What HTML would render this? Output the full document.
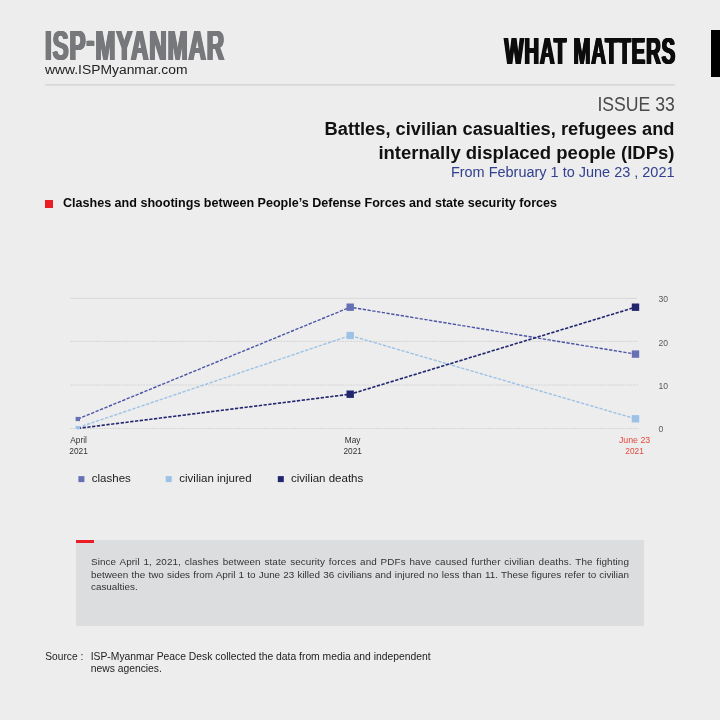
<!DOCTYPE html>
<html lang="en">
<head>
<meta charset="utf-8">
<title>ISP-Myanmar — What Matters — Issue 33</title>
<style>
  html,body{margin:0;padding:0;}
  body{width:720px;height:720px;overflow:hidden;background:#ededed;position:relative;font-family:"Liberation Sans",sans-serif;color:#111;}
  .abs{position:absolute;white-space:nowrap;line-height:1;}
  #logo{left:45.2px;top:24.7px;font-size:42.4px;font-weight:700;color:#77787b;transform-origin:0 0;transform:scaleX(0.569);letter-spacing:1.5px;text-shadow:0.8px 0 0 #77787b,-0.8px 0 0 #77787b,1.6px 0 0 #77787b,-1.6px 0 0 #77787b;}
  #url{left:45px;top:63.8px;font-size:12.3px;color:#222;transform-origin:0 0;transform:scaleX(1.127);}
  #wm{right:43.9px;top:33.3px;font-size:37.8px;font-weight:700;color:#0c0c0c;transform-origin:100% 0;transform:scaleX(0.538);letter-spacing:1.5px;text-shadow:0.8px 0 0 #0c0c0c,-0.8px 0 0 #0c0c0c,1.6px 0 0 #0c0c0c,-1.6px 0 0 #0c0c0c;}
  #tab{left:711px;top:30px;width:9px;height:46.5px;background:#000;}
  #hr{left:45px;top:84px;width:630px;height:2px;background:linear-gradient(#d8d8d8 0,#d8d8d8 50%,#dedede 50%,#dedede 100%);}
  #issue{right:45px;top:95.3px;font-size:19.8px;color:#4a4a4a;font-weight:400;transform-origin:100% 0;transform:scaleX(0.892);}
  #t1{right:45.5px;top:120.4px;font-size:18.25px;font-weight:700;color:#111;}
  #t2{right:45.5px;top:143.8px;font-size:18.5px;font-weight:700;color:#111;}
  #date{right:45.5px;top:165px;font-size:14.47px;color:#32418f;}
  #bullet{left:45.3px;top:200.3px;width:7.5px;height:7.5px;background:#ec1c24;}
  #sub{left:63.3px;top:197.3px;font-size:12px;font-weight:700;color:#0a0a0a;transform-origin:0 0;transform:scaleX(1.0457);}
  #chart{left:0;top:0;}
  #box{left:75.9px;top:539.9px;width:568.6px;height:86px;background:#dcdddf;}
  #redbar{left:75.9px;top:539.9px;width:18px;height:3px;background:#ec1c24;}
  #para{left:91px;top:556.3px;width:538px;font-size:9.9px;line-height:12.4px;color:#333;white-space:normal;text-align:justify;}
  #para span:first-child{letter-spacing:0.1px;}
  #para span{display:block;text-align:justify;text-align-last:justify;white-space:nowrap;}
  #para span.last{text-align-last:left;}
  #srcl{left:45.3px;top:651.9px;font-size:10.2px;color:#222;}
  #src1{left:90.7px;top:651.9px;font-size:10.34px;color:#222;}
  #src2{left:90.7px;top:664.3px;font-size:10.34px;color:#222;}
</style>
</head>
<body>
<div class="abs" id="logo">ISP<span style="position:relative;top:-4.5px">-</span>MYANMAR</div>
<div class="abs" id="url">www.ISPMyanmar.com</div>
<div class="abs" id="wm">WHAT MATTERS</div>
<div class="abs" id="tab"></div>
<div class="abs" id="hr"></div>
<div class="abs" id="issue">ISSUE 33</div>
<div class="abs" id="t1">Battles, civilian casualties, refugees and</div>
<div class="abs" id="t2">internally displaced people (IDPs)</div>
<div class="abs" id="date">From February 1 to June 23 , 2021</div>
<div class="abs" id="bullet"></div>
<div class="abs" id="sub">Clashes and shootings between People’s Defense Forces and state security forces</div>

<svg class="abs" id="chart" width="720" height="720" viewBox="0 0 720 720" font-family="'Liberation Sans',sans-serif">
  <!-- grid -->
  <line x1="70.5" y1="298.3" x2="637" y2="298.3" stroke="#d6d6d6" stroke-width="0.9"/>
  <line x1="70.5" y1="341.4" x2="638.5" y2="341.4" stroke="#cdcdcd" stroke-width="0.8" stroke-dasharray="1.8 1"/>
  <line x1="70.5" y1="385" x2="638.5" y2="385" stroke="#cdcdcd" stroke-width="0.8" stroke-dasharray="1.8 1"/>
  <line x1="70.5" y1="428.5" x2="638.5" y2="428.5" stroke="#cdcdcd" stroke-width="0.8" stroke-dasharray="1.8 1"/>
  <!-- series -->
  <polyline points="77.8,427.6 350.2,335.5 635.5,418.8" fill="none" stroke="#9cc3e6" stroke-width="1.4" stroke-dasharray="3.3 1.5"/>
  <polyline points="77.8,419 350.2,307.2 635.5,354.1" fill="none" stroke="#4c55a6" stroke-width="1.4" stroke-dasharray="3.3 1.5"/>
  <polyline points="77.8,428.4 350.2,394.2 635.5,307.2" fill="none" stroke="#22266e" stroke-width="1.6" stroke-dasharray="3.3 1.5"/>
  <!-- markers -->
  <rect x="75.6" y="426" width="4.4" height="3" fill="#9cc3e6"/>
  <rect x="75.6" y="416.9" width="4.4" height="4.2" fill="#6870b4"/>
  <rect x="346.5" y="331.9" width="7.4" height="7.2" fill="#9cc3e6"/>
  <rect x="346.5" y="303.5" width="7.4" height="7.4" fill="#6870b4"/>
  <rect x="346.5" y="390.5" width="7.4" height="7.4" fill="#22266e"/>
  <rect x="631.8" y="415.1" width="7.4" height="7.4" fill="#9cc3e6"/>
  <rect x="631.8" y="350.4" width="7.4" height="7.4" fill="#6870b4"/>
  <rect x="631.8" y="303.5" width="7.4" height="7.4" fill="#22266e"/>
  <!-- y labels -->
  <g font-size="8.6" fill="#5a5a5a">
    <text x="658.6" y="302.3">30</text>
    <text x="658.6" y="345.6">20</text>
    <text x="658.6" y="388.8">10</text>
    <text x="658.6" y="431.5">0</text>
  </g>
  <!-- x labels -->
  <g font-size="8.3" fill="#333" text-anchor="middle">
    <text x="78.6" y="442.6">April</text>
    <text x="78.6" y="454">2021</text>
    <text x="352.7" y="442.6">May</text>
    <text x="352.7" y="454">2021</text>
  </g>
  <g font-size="8.3" fill="#e5483e" text-anchor="middle">
    <text x="634.6" y="442.6" font-size="8.8">June 23</text>
    <text x="634.6" y="454">2021</text>
  </g>
  <!-- legend -->
  <rect x="78.4" y="476.1" width="6" height="6" fill="#6870b4"/>
  <rect x="165.7" y="476.1" width="6" height="6" fill="#9cc3e6"/>
  <rect x="277.8" y="476.1" width="6" height="6" fill="#22266e"/>
  <g font-size="11.5" fill="#1a1a1a">
    <text x="91.8" y="482.1">clashes</text>
    <text x="179.3" y="482.1">civilian injured</text>
    <text x="291" y="482.1">civilian deaths</text>
  </g>
</svg>

<div class="abs" id="box"></div>
<div class="abs" id="redbar"></div>
<div class="abs" id="para"><span>Since April 1, 2021, clashes between state security forces and PDFs have caused further civilian deaths. The fighting</span><span style="position:relative;top:0.6px">between the two sides from April 1 to June 23 killed 36 civilians and injured no less than 11. These figures refer to civilian</span><span class="last">casualties.</span></div>
<div class="abs" id="srcl">Source :</div>
<div class="abs" id="src1">ISP-Myanmar Peace Desk collected the data from media and independent</div>
<div class="abs" id="src2">news agencies.</div>
</body>
</html>
